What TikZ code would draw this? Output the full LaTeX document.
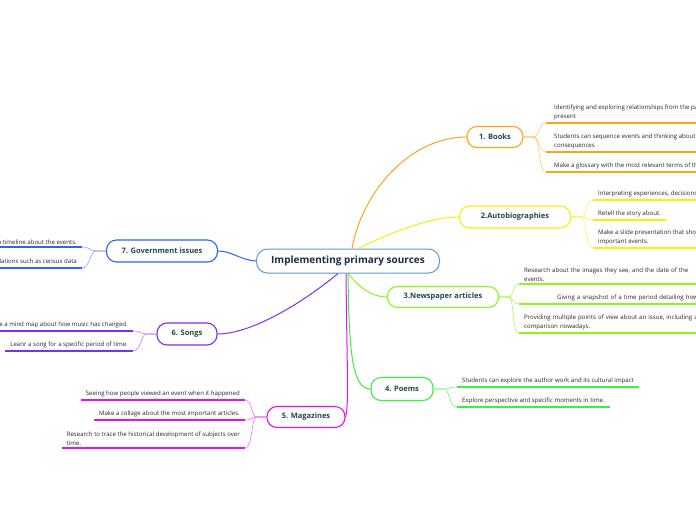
\documentclass[tikz,border=0pt]{standalone}
\usepackage{fontspec}
\setmainfont{Open Sans}
\usetikzlibrary{positioning}
\definecolor{rootdraw}{HTML}{5B9BD5}
\definecolor{roottext}{HTML}{1B2A4E}
\definecolor{topictext}{HTML}{1E4B44}
\definecolor{bookdraw}{HTML}{FFA31A}
\definecolor{autodraw}{HTML}{F2F20A}
\definecolor{newsdraw}{HTML}{8CF51A}
\definecolor{poemdraw}{HTML}{3DF03D}
\definecolor{magdraw}{HTML}{EB10EB}
\definecolor{songdraw}{HTML}{7B2FF2}
\definecolor{govdraw}{HTML}{2E66F0}
\tikzset{
  rootbox/.style={rectangle, rounded corners=11pt, draw=rootdraw, line width=1pt, fill=white, font=\bfseries\fontsize{10}{12}\selectfont, text=roottext, minimum width=183pt, minimum height=24pt},
  topic/.style={rectangle, rounded corners=10pt, line width=1.1pt, fill=white, align=center, font=\bfseries\fontsize{7.5}{9}\selectfont, text=topictext, minimum height=21pt, inner sep=2pt},
  sub/.style={align=left, font=\fontsize{6.1}{9}\selectfont, text=black!85, inner xsep=5pt, inner ysep=2.5pt},
  subr/.style={sub, anchor=south west},
  subl/.style={sub, anchor=south east},
  uline/.style={line width=1.6pt},
  twig/.style={line width=0.6pt},
  branch/.style={line width=1pt},
}
\begin{document}
\begin{tikzpicture}[x=1pt, y=-1pt]
  \useasboundingbox[fill=white] (0,0) rectangle (696,520);
  % central topic
  \node[rootbox] (root) at (348,261) {Implementing primary sources};
  % main topics
  \node[topic, draw=bookdraw, minimum width=56pt] (books) at (495,137) {1. Books};
  \node[topic, draw=autodraw, minimum width=111pt, minimum height=22pt] (auto) at (515,217) {2.Autobiographies};
  \node[topic, draw=newsdraw, minimum width=111pt] (news) at (443,297) {3.Newspaper articles};
  \node[topic, draw=poemdraw, minimum width=62pt, minimum height=23pt] (poems) at (402,389) {4. Poems};
  \node[topic, draw=magdraw, minimum width=78pt] (mags) at (306,417) {5. Magazines};
  \node[topic, draw=songdraw, minimum width=60pt, minimum height=22pt] (songs) at (187,334) {6. Songs};
  \node[topic, draw=govdraw, minimum width=111pt, minimum height=22pt] (gov) at (162,251) {7. Government issues};
  % main branches
  \draw[branch, bookdraw] ([xshift=4pt]root.north) .. controls (362,192) and (410,137) .. (books.west);
  \draw[branch, autodraw] ([xshift=10pt]root.north) .. controls (392,232) and (430,217) .. (auto.west);
  \draw[branch, newsdraw] ([xshift=0pt]root.south) .. controls (360,288) and (372,297) .. (news.west);
  \draw[branch, poemdraw] ([xshift=0pt]root.south) .. controls (349,352) and (352,389) .. (poems.west);
  \draw[branch, magdraw] ([xshift=-2pt]root.south) .. controls (347,370) and (349,405) .. (mags.east);
  \draw[branch, songdraw] ([xshift=-10pt]root.south) .. controls (300,305) and (250,334) .. (songs.east);
  \draw[branch, govdraw] (root.west) .. controls (240,260) and (232,251) .. (gov.east);
  % books
  \node[subr, inner xsep=8pt] (b1) at (546,123) {Identifying and exploring relationships from the past and\\present};
  \node[subr, inner xsep=8pt] (b2) at (546,152) {Students can sequence events and thinking about causes and\\consequences};
  \node[subr, inner xsep=8pt] (b3) at (546,172) {Make a glossary with the most relevant terms of the topic.};
  % autobiographies
  \node[subr] (a1) at (593,200) {Interpreting experiences, decisions and feelings.};
  \node[subr] (a2) at (593,220) {Retell the story about.};
  \node[subr] (a3) at (593,248) {Make a slide presentation that shows the most\\important events.};
  % newspaper articles
  \node[subr, text width=190pt] (n1) at (519,284) {Research about the images they see, and the date of the\\events.};
  \node[subr, text width=190pt] (n2) at (519,304) {\hspace*{33pt}Giving a snapshot of a time period detailing how};
  \node[subr, text width=190pt] (n3) at (519,333) {Providing multiple points of view about an issue, including a\\comparison nowadays.};
  % poems
  \node[subr] (p1) at (457,387) {Students can explore the author work and its cultural impact};
  \node[subr] (p2) at (457,407) {Explore perspective and specific moments in time.};
  % magazines
  \node[subl] (m1) at (245,400) {Seeing how people viewed an event when it happened};
  \node[subl] (m2) at (245,420) {Make a collage about the most important articles.};
  \node[subl] (m3) at (245,448) {Research to trace the historical development of subjects over\\time.};
  % songs
  \node[subl] (s1) at (133,331) {Create a mind map about how music has changed.};
  \node[subl] (s2) at (133,351) {Leanr a song for a specific period of time.};
  % government issues
  \node[subl] (g1) at (82,247) {Create a timeline about the events.};
  \node[subl] (g2) at (82,268) {Use compilations such as census data};
  % underlines
  \foreach \n/\c in {b1/bookdraw, b2/bookdraw, b3/bookdraw, a1/autodraw, a2/autodraw, a3/autodraw,
    n1/newsdraw, n2/newsdraw, n3/newsdraw, p1/poemdraw, p2/poemdraw, m1/magdraw, m2/magdraw, m3/magdraw,
    s1/songdraw, s2/songdraw, g1/govdraw, g2/govdraw}
    \draw[uline, \c] (\n.south west) -- (\n.south east);
  % twigs, right side
  \draw[twig, bookdraw!60] (books.east) -- ++(10,0) .. controls (540,137) and (538,123) .. (b1.south west);
  \draw[twig, bookdraw!60] (books.east) -- ++(10,0) .. controls (540,137) and (538,152) .. (b2.south west);
  \draw[twig, bookdraw!60] (books.east) -- ++(10,0) .. controls (540,137) and (538,172) .. (b3.south west);
  \draw[twig, autodraw!70] (auto.east) -- ++(10,0) .. controls (587,217) and (585,200) .. (a1.south west);
  \draw[twig, autodraw!70] (auto.east) -- ++(10,0) .. controls (587,217) and (585,220) .. (a2.south west);
  \draw[twig, autodraw!70] (auto.east) -- ++(10,0) .. controls (587,217) and (585,248) .. (a3.south west);
  \draw[twig, newsdraw!70] (news.east) -- ++(10,0) .. controls (514,297) and (512,284) .. (n1.south west);
  \draw[twig, newsdraw!70] (news.east) -- ++(10,0) .. controls (514,297) and (512,304) .. (n2.south west);
  \draw[twig, newsdraw!70] (news.east) -- ++(10,0) .. controls (514,297) and (512,333) .. (n3.south west);
  \draw[twig, poemdraw!70] (poems.east) -- ++(10,0) .. controls (450,389) and (449,387) .. (p1.south west);
  \draw[twig, poemdraw!70] (poems.east) -- ++(10,0) .. controls (450,389) and (449,407) .. (p2.south west);
  % twigs, left side
  \draw[twig, magdraw!60] (mags.west) -- ++(-10,0) .. controls (251,417) and (253,400) .. (m1.south east);
  \draw[twig, magdraw!60] (mags.west) -- ++(-10,0) .. controls (251,417) and (253,420) .. (m2.south east);
  \draw[twig, magdraw!60] (mags.west) -- ++(-10,0) .. controls (251,417) and (253,448) .. (m3.south east);
  \draw[twig, songdraw!60] (songs.west) -- ++(-10,0) .. controls (141,334) and (141,331) .. (s1.south east);
  \draw[twig, songdraw!60] (songs.west) -- ++(-10,0) .. controls (141,334) and (141,351) .. (s2.south east);
  \draw[twig, govdraw!60] (gov.west) -- ++(-10,0) .. controls (90,251) and (90,247) .. (g1.south east);
  \draw[twig, govdraw!60] (gov.west) -- ++(-10,0) .. controls (90,251) and (90,268) .. (g2.south east);
\end{tikzpicture}
\end{document}
